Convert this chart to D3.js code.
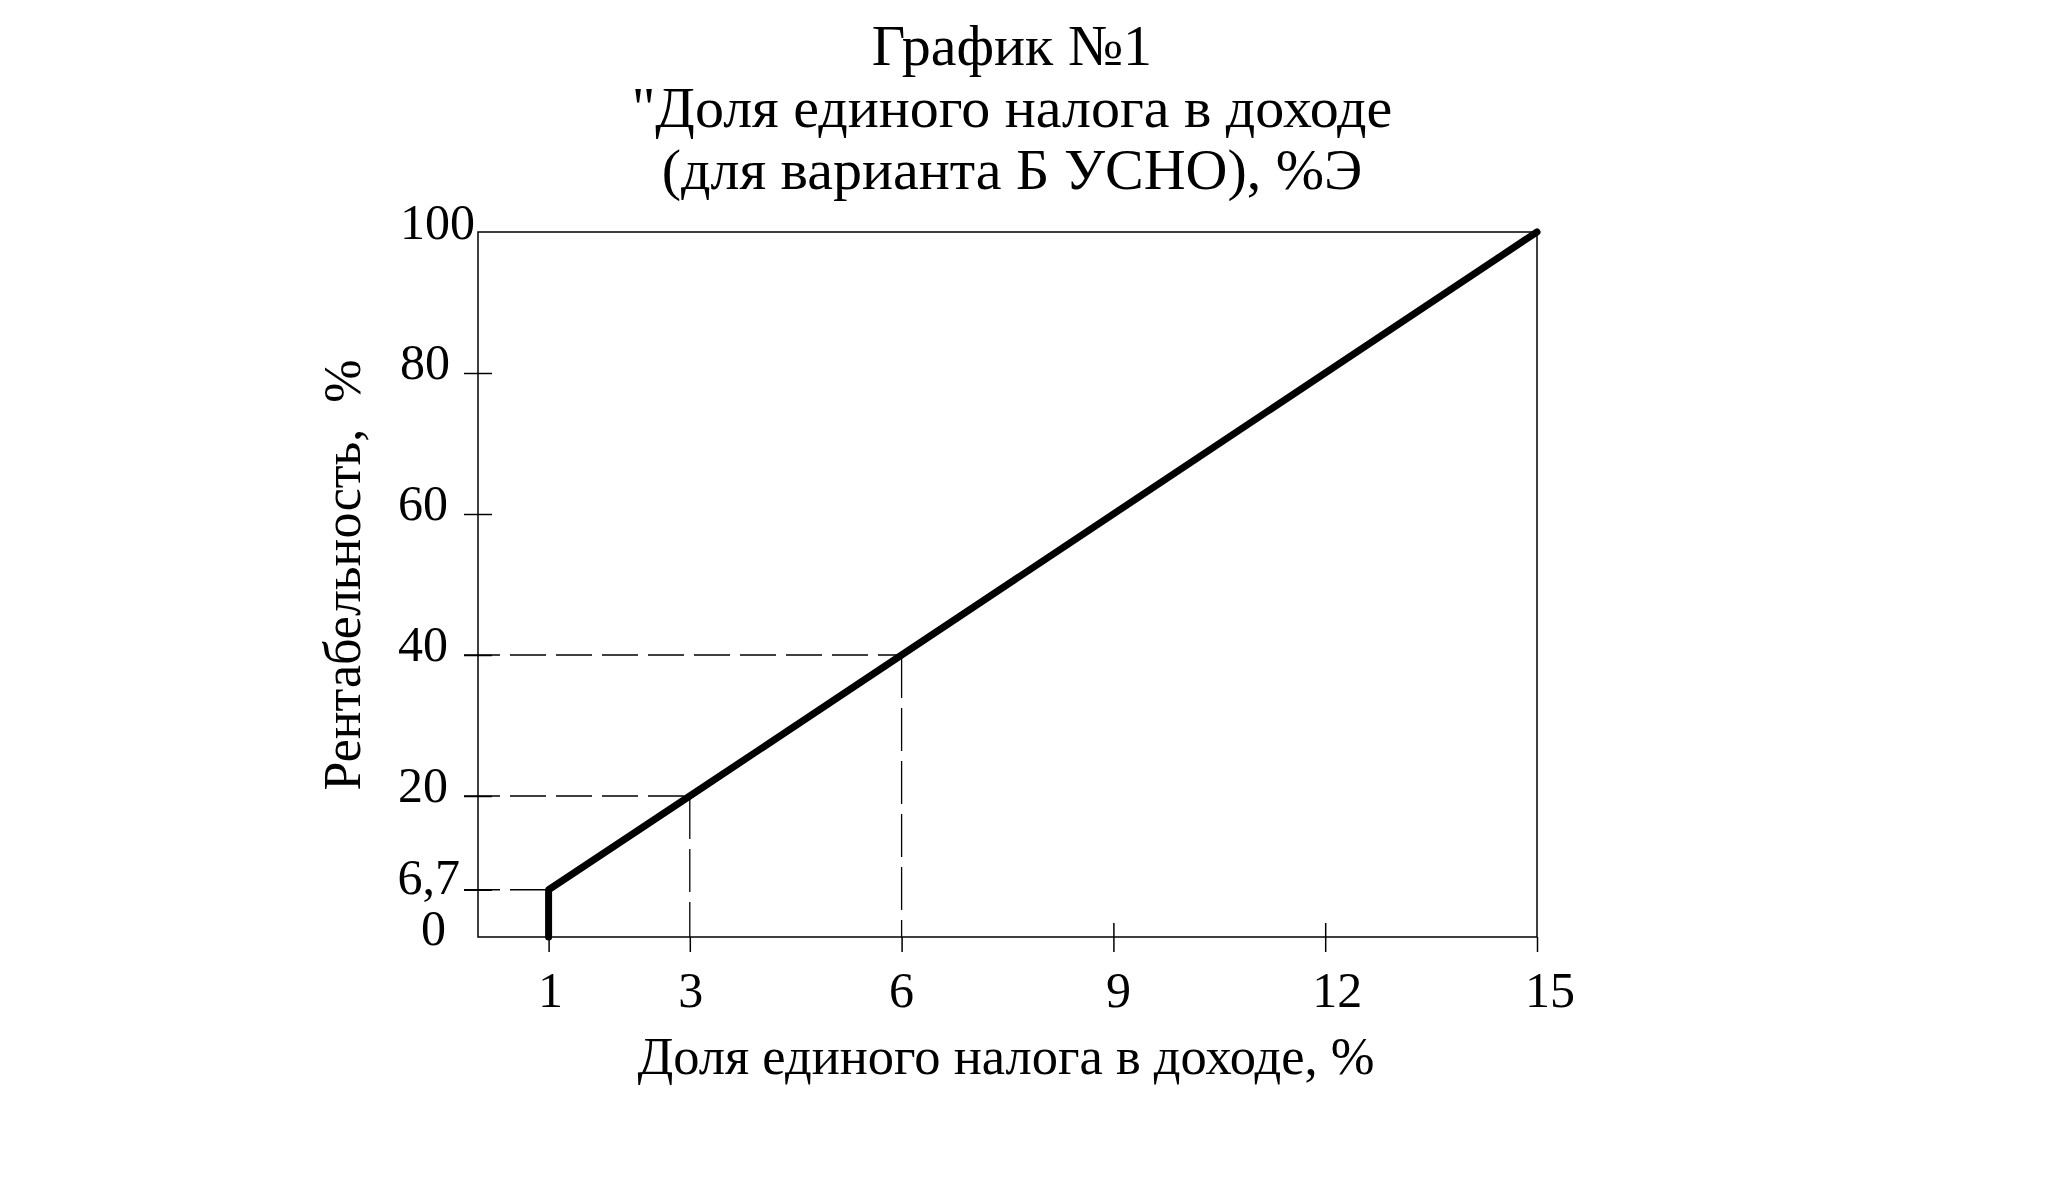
<!DOCTYPE html>
<html>
<head>
<meta charset="utf-8">
<script src="https://cdn.jsdelivr.net/npm/d3@7"></script>
<style>
  html, body { margin: 0; padding: 0; background: #fff; }
  svg { display: block; }
  text { font-family: "Liberation Serif", "Times New Roman", serif; fill: #000; }
</style>
</head>
<body>
<svg id="chart" width="2048" height="1177"></svg>
<script>
// ---- data ----
const titleLines = ["График №1", "\"Доля единого налога в доходе", "(для варианта Б УСНО), %Э"];
const xAxisTitle = "Доля единого налога в доходе, %";
const yAxisTitle = "Рентабельность,  %";
const lineX = [1, 1, 3, 6, 15];
const lineY = [0, 6.7, 20, 40, 100];
const xTicks = [1, 3, 6, 9, 12, 15];
const yTicks = [6.7, 20, 40, 60, 80];
const yTickLabels = ["0", "6,7", "20", "40", "60", "80", "100"];
const yLabelValues = [0, 6.7, 20, 40, 60, 80, 100];
const guideX = [1, 3, 6];
const guideY = [6.7, 20, 40];

// ---- layout ----
const svg = d3.select("#chart");
const pLeft = 478, pRight = 1537, pTop = 232, pBottom = 937;
const x = d3.scaleLinear().domain([0, 15]).range([pLeft, pRight]);
const y = d3.scaleLinear().domain([0, 100]).range([pBottom, pTop]);

// title
svg.append("g").selectAll("text").data(titleLines).join("text")
  .attr("x", 1012).attr("y", (d, i) => 65 + i * 62)
  .attr("text-anchor", "middle").attr("font-size", 58)
  .text(d => d);

// frame
svg.append("rect").attr("x", pLeft).attr("y", pTop)
  .attr("width", pRight - pLeft).attr("height", pBottom - pTop)
  .attr("fill", "none").attr("stroke", "#000").attr("stroke-width", 1.5);

// dashed guides
const guides = svg.append("g").attr("stroke", "#000").attr("stroke-width", 1.3)
  .attr("stroke-dasharray", "36,10").attr("fill", "none");
guideY.forEach((v, i) => {
  guides.append("line").attr("x1", pLeft - 14).attr("x2", x(guideX[i]))
    .attr("y1", y(v)).attr("y2", y(v));
  if (guideX[i] !== 1) {
    guides.append("line").attr("x1", x(guideX[i])).attr("x2", x(guideX[i]))
      .attr("y1", y(v)).attr("y2", pBottom)
      .attr("stroke-dasharray", "43,10");
  }
});

// axes via d3 (ticks crossing the axis)
const xAxis = d3.axisBottom(x).tickValues(xTicks).tickSize(15).tickFormat("");
const gx = svg.append("g").attr("transform", `translate(0,${pBottom})`).call(xAxis);
gx.select(".domain").remove();
gx.selectAll(".tick line").attr("stroke", "#000").attr("stroke-width", 1.5)
  .attr("y1", d => (d === 9 || d === 12) ? -14 : 0);

const yAxis = d3.axisLeft(y).tickValues(yTicks).tickSize(14).tickFormat("");
const gy = svg.append("g").attr("transform", `translate(${pLeft},0)`).call(yAxis);
gy.select(".domain").remove();
gy.selectAll(".tick line").attr("stroke", "#000").attr("stroke-width", 1.5)
  .attr("x1", 14);

// x tick labels
const xLabelDx = {1: 2, 3: 1, 6: 0, 9: 5, 12: 12, 15: 13};
svg.append("g").selectAll("text").data(xTicks).join("text")
  .attr("x", d => x(d) + xLabelDx[d]).attr("y", 1007)
  .attr("text-anchor", "middle").attr("font-size", 50)
  .text(d => d);

// y tick labels
const yLabelRight = {0: 446, 6.7: 460, 20: 448, 40: 448, 60: 448, 80: 450, 100: 475};
const yLabelDy = {0: 8, 6.7: 4, 20: 6, 40: 6, 60: 6, 80: 6, 100: 7};
svg.append("g").selectAll("text").data(yLabelValues).join("text")
  .attr("x", d => yLabelRight[d]).attr("y", d => y(d) + yLabelDy[d])
  .attr("text-anchor", "end").attr("font-size", 50)
  .text((d, i) => yTickLabels[i]);

// main line
const line = d3.line().x(d => x(d[0])).y(d => y(d[1]));
svg.append("path").datum(lineX.map((v, i) => [v, lineY[i]]))
  .attr("d", line).attr("fill", "none").attr("stroke", "#000")
  .attr("stroke-width", 7).attr("stroke-linecap", "round").attr("stroke-linejoin", "round");

// axis titles
svg.append("text").attr("x", 1006).attr("y", 1074)
  .attr("text-anchor", "middle").attr("font-size", 52.5).text(xAxisTitle);
svg.append("text").attr("transform", "translate(360,575) rotate(-90)")
  .attr("text-anchor", "middle").attr("font-size", 52).text(yAxisTitle)
  .style("white-space", "pre");
</script>
</body>
</html>
